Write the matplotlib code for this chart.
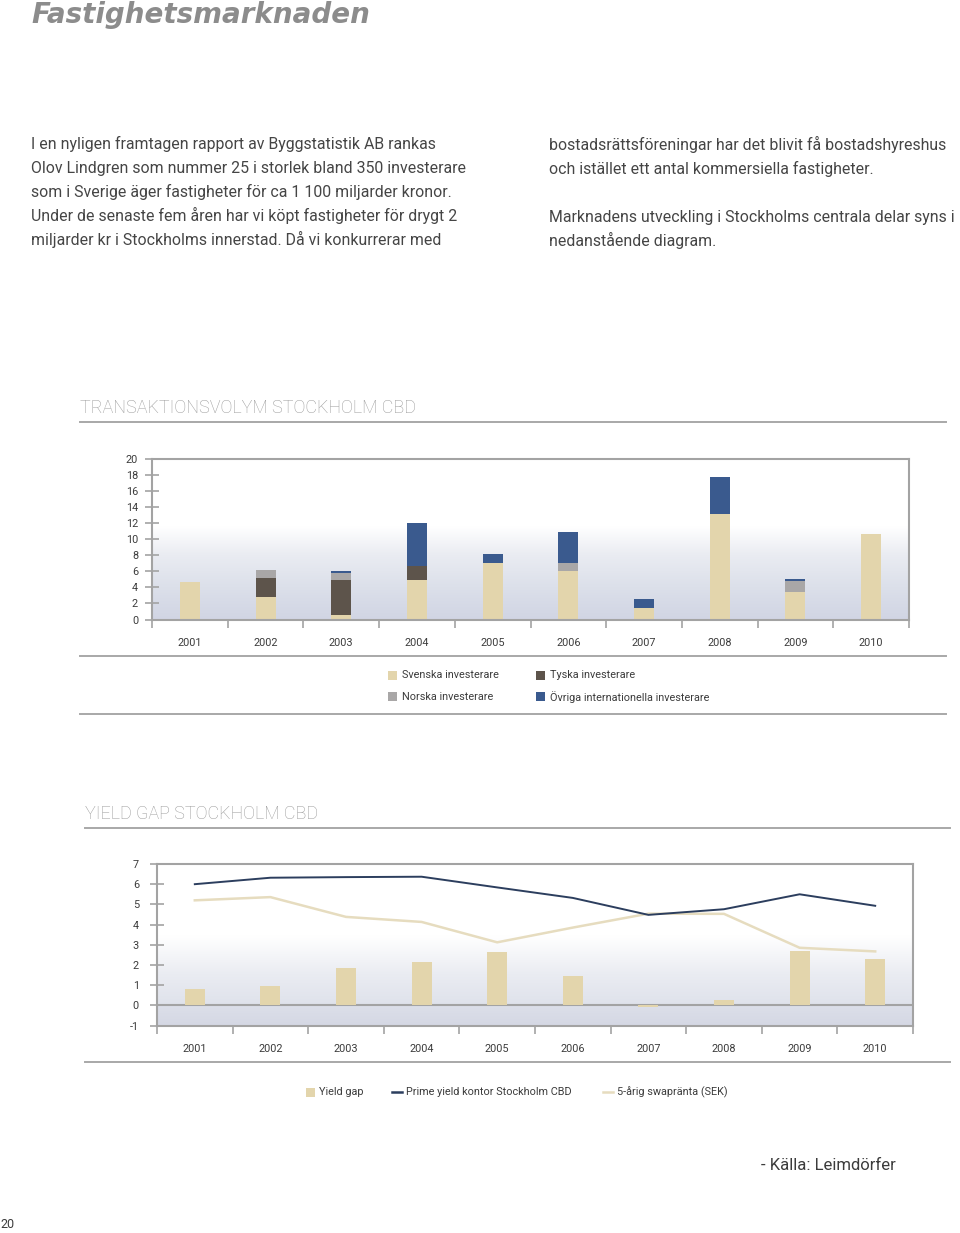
import numpy as np
import matplotlib
matplotlib.use("Agg")
import matplotlib.pyplot as plt
from matplotlib.colors import to_rgb
from matplotlib.patches import Rectangle
from matplotlib.lines import Line2D

# ---------------- data ----------------
years = ["2001", "2002", "2003", "2004", "2005", "2006", "2007", "2008", "2009", "2010"]

svenska = [4.7, 2.8, 0.5, 4.9, 7.0, 6.1, 1.4, 13.1, 3.45, 10.6]
tyska   = [0.0, 2.35, 4.4, 1.8, 0.0, 0.0, 0.0, 0.0, 0.0, 0.0]
norska  = [0.0, 1.0, 0.9, 0.0, 0.0, 0.9, 0.0, 0.0, 1.35, 0.0]
ovriga  = [0.0, 0.0, 0.2, 5.3, 1.2, 3.9, 1.1, 4.6, 0.2, 0.0]
series1_names = ["Svenska investerare", "Tyska investerare",
                 "Norska investerare", "Övriga internationella investerare"]
y1_ticks = [0, 2, 4, 6, 8, 10, 12, 14, 16, 18, 20]

yield_gap  = [0.83, 0.95, 1.87, 2.17, 2.64, 1.44, -0.1, 0.25, 2.69, 2.3]
prime_yield = [6.0, 6.32, 6.35, 6.37, 5.84, 5.32, 4.48, 4.76, 5.5, 4.93]
swap_rate   = [5.2, 5.36, 4.38, 4.13, 3.12, 3.85, 4.54, 4.53, 2.85, 2.67]
series2_names = ["Yield gap", "Prime yield kontor Stockholm CBD", "5-årig swapränta (SEK)"]
y2_ticks = [-1, 0, 1, 2, 3, 4, 5, 6, 7]

# ---------------- style ----------------
C_SV = "#e3d5ac"
C_TY = "#5d544b"
C_NO = "#a9a7a7"
C_OV = "#3a5a8e"
C_PRIME = "#2c3e5e"
C_SWAP = "#e6dcbf"
SPINE = "#a3a3a3"
TXT = "#3c3c3c"
BODY = "#454545"
FONT = ["Roboto", "DejaVu Sans"]

plt.rcParams["font.family"] = FONT

W, H = 960, 1233
fig = plt.figure(figsize=(W / 100, H / 100), dpi=100)


def fx(x):
    return x / W


def fy(y):
    return 1 - y / H


def ftext(x, y, s, **kw):
    fig.text(fx(x), fy(y), s, **kw)


def hline(x0, x1, y, color="#a8a8a8", lw=1.4):
    fig.add_artist(Line2D([fx(x0), fx(x1)], [fy(y), fy(y)], color=color, lw=lw,
                          transform=fig.transFigure))


def add_axes_px(left, top, right, bottom):
    return fig.add_axes([fx(left), fy(bottom), fx(right - left), (bottom - top) / H])


def gradient_bg(ax, stops, ylim, xlim):
    vals = np.linspace(ylim[0], ylim[1], 400)
    sv = [s[0] for s in stops]
    cols = np.array([to_rgb(s[1]) for s in stops])
    img = np.zeros((400, 1, 3))
    for k in range(3):
        img[:, 0, k] = np.interp(vals, sv, cols[:, k])
    ax.imshow(img[::-1], extent=[xlim[0], xlim[1], ylim[0], ylim[1]],
              aspect="auto", zorder=0, interpolation="bilinear")


# ---------------- page text ----------------
ftext(31, 15, "Fastighetsmarknaden", fontsize=20, color="#8c8c8c",
      style="italic", weight="bold", va="center", ha="left",
      family=["DejaVu Sans"])

left_lines = [
    "I en nyligen framtagen rapport av Byggstatistik AB rankas",
    "Olov Lindgren som nummer 25 i storlek bland 350 investerare",
    "som i Sverige äger fastigheter för ca 1 100 miljarder kronor.",
    "Under de senaste fem åren har vi köpt fastigheter för drygt 2",
    "miljarder kr i Stockholms innerstad. Då vi konkurrerar med",
]
for i, s in enumerate(left_lines):
    ftext(31, 149 + 24 * i, s, fontsize=11.4, color=BODY, va="baseline", ha="left")

right_lines = [
    (150, "bostadsrättsföreningar har det blivit få bostadshyreshus"),
    (174, "och istället ett antal kommersiella fastigheter."),
    (222, "Marknadens utveckling i Stockholms centrala delar syns i"),
    (246, "nedanstående diagram."),
]
for y, s in right_lines:
    ftext(549, y, s, fontsize=11.4, color=BODY, va="baseline", ha="left")

# ---------------- chart 1 ----------------
ftext(80, 408, "TRANSAKTIONSVOLYM STOCKHOLM CBD", fontsize=13, color="#9a9a9a",
      va="center", ha="left", weight="light")
hline(80, 946, 422)

ax1 = add_axes_px(152, 459, 909, 619.5)
x = np.arange(len(years))
xl = (-0.5, len(years) - 0.5)
yl1 = (0, 20)
gradient_bg(ax1, [(0, "#d1d5e4"), (4, "#dce0ea"), (8, "#eaecf2"), (11.5, "#ffffff"), (20, "#ffffff")], yl1, xl)

bw = 0.265
b = np.zeros(len(years))
for vals, col in [(svenska, C_SV), (tyska, C_TY), (norska, C_NO), (ovriga, C_OV)]:
    ax1.bar(x, vals, bw, bottom=b, color=col, zorder=2, linewidth=0)
    b = b + np.array(vals)

ax1.set_xlim(*xl)
ax1.set_ylim(*yl1)
ax1.set_yticks(y1_ticks)
ax1.set_yticklabels([str(t) for t in y1_ticks])
ax1.set_xticks(x)
ax1.set_xticklabels(years)
ax1.set_xticks(np.arange(-0.5, len(years)), minor=True)

for sp in ax1.spines.values():
    sp.set_color(SPINE)
    sp.set_linewidth(1.5)
ax1.tick_params(axis="y", direction="inout", length=10, width=1.2, color=SPINE,
                labelsize=7.8, labelcolor=TXT, pad=5)
ax1.tick_params(axis="x", which="major", length=0, pad=13, labelsize=7.8, labelcolor=TXT)
ax1.tick_params(axis="x", which="minor", direction="out", length=6, width=1.2, color=SPINE)

hline(80, 946, 656)

# legend 1
leg1 = [(388, 675, C_SV, series1_names[0]), (536, 675, C_TY, series1_names[1]),
        (388, 697, C_NO, series1_names[2]), (536, 697, C_OV, series1_names[3])]
for lx, ly, col, name in leg1:
    fig.add_artist(Rectangle((fx(lx), fy(ly + 4.5)), fx(9), 9 / H, color=col,
                             transform=fig.transFigure, lw=0))
    ftext(lx + 14, ly, name, fontsize=7.8, color=TXT, va="center", ha="left")

hline(80, 946, 714)

# ---------------- chart 2 ----------------
ftext(85, 814, "YIELD GAP STOCKHOLM CBD", fontsize=13, color="#9a9a9a",
      va="center", ha="left", weight="light")
hline(85, 950, 828)

ax2 = add_axes_px(157, 864, 913, 1025.5)
yl2 = (-1, 7)
gradient_bg(ax2, [(-1, "#d5d8e4"), (-0.01, "#dcdfe9"), (0.0, "#dfe2eb"),
                  (1.5, "#eaecf2"), (3.4, "#ffffff"), (7, "#ffffff")], yl2, xl)

ax2.axhline(0, color=SPINE, lw=1.5, zorder=1)
ax2.bar(x, yield_gap, bw, color=C_SV, zorder=2, linewidth=0)
ax2.plot(x, swap_rate, color=C_SWAP, lw=1.8, zorder=3)
ax2.plot(x, prime_yield, color=C_PRIME, lw=1.4, zorder=4)

ax2.set_xlim(*xl)
ax2.set_ylim(*yl2)
ax2.set_yticks(y2_ticks)
ax2.set_yticklabels([str(t) for t in y2_ticks])
ax2.set_xticks(x)
ax2.set_xticklabels(years)
ax2.set_xticks(np.arange(-0.5, len(years)), minor=True)
for sp in ax2.spines.values():
    sp.set_color(SPINE)
    sp.set_linewidth(1.5)
ax2.tick_params(axis="y", direction="inout", length=10, width=1.2, color=SPINE,
                labelsize=7.8, labelcolor=TXT, pad=8)
ax2.tick_params(axis="x", which="major", length=0, pad=13, labelsize=7.8, labelcolor=TXT)
ax2.tick_params(axis="x", which="minor", direction="out", length=6, width=1.2, color=SPINE)

hline(85, 950, 1062)

# legend 2
ly = 1092
fig.add_artist(Rectangle((fx(306), fy(ly + 4.5)), fx(9), 9 / H, color=C_SV,
                         transform=fig.transFigure, lw=0))
ftext(319, ly, series2_names[0], fontsize=7.8, color=TXT, va="center", ha="left")
fig.add_artist(Line2D([fx(392), fx(402)], [fy(ly), fy(ly)], color=C_PRIME, lw=1.8,
                      transform=fig.transFigure))
ftext(406, ly, series2_names[1], fontsize=7.8, color=TXT, va="center", ha="left")
fig.add_artist(Line2D([fx(603), fx(613)], [fy(ly), fy(ly)], color=C_SWAP, lw=1.8,
                      transform=fig.transFigure))
ftext(617, ly, series2_names[2], fontsize=7.8, color=TXT, va="center", ha="left")

# footer
ftext(896, 1166, "- Källa: Leimdörfer", fontsize=12, color=TXT, va="center", ha="right")
ftext(0, 1224, "20", fontsize=9, color=TXT, va="center", ha="left")

fig.savefig("out.png", dpi=100)
